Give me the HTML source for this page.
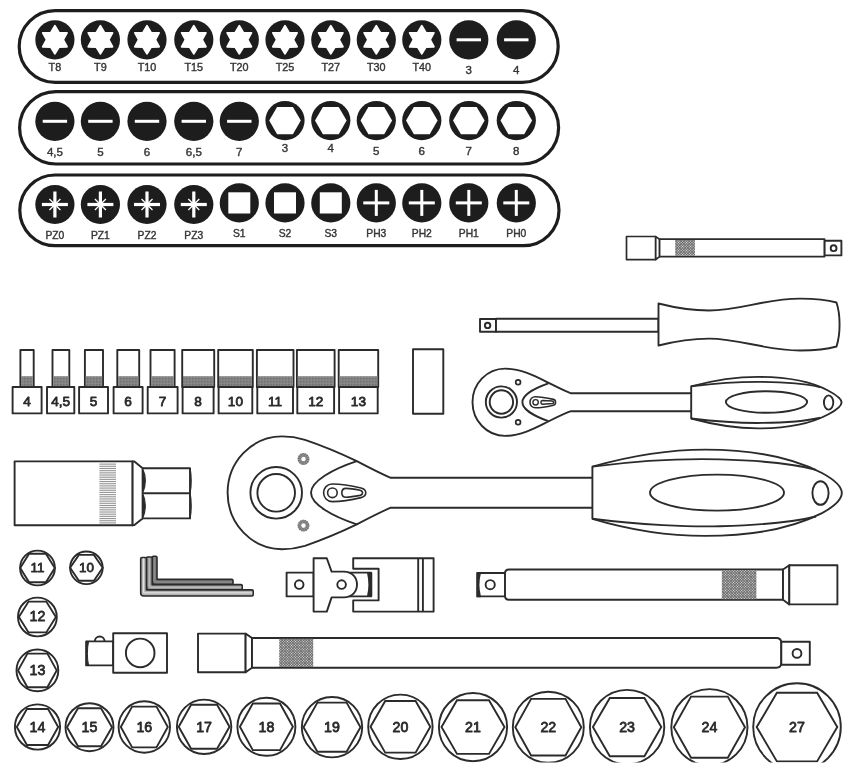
<!DOCTYPE html>
<html><head><meta charset="utf-8"><title>Tool set</title>
<style>html,body{margin:0;padding:0;background:#fff}svg{display:block;filter:blur(0.3px)}text{font-family:"Liberation Sans",sans-serif}</style>
</head><body>
<svg width="850" height="772" viewBox="0 0 850 772">
<defs>
<pattern id="xh" width="1.9" height="1.9" patternUnits="userSpaceOnUse" patternTransform="rotate(45)"><rect width="1.9" height="1.9" fill="#e2e2e2"/><rect width="1.9" height="0.85" fill="#666"/><rect width="0.85" height="1.9" fill="#666"/></pattern>
<pattern id="gr" width="1.5" height="1.5" patternUnits="userSpaceOnUse"><rect width="1.5" height="1.5" fill="#8a8a8a"/><rect width="0.7" height="0.7" fill="#5e5e5e"/></pattern>
<pattern id="hl" width="4" height="1.85" patternUnits="userSpaceOnUse"><rect width="4" height="1.85" fill="#fff"/><rect width="4" height="0.9" fill="#8e8e8e"/></pattern>
</defs>
<rect width="850" height="772" fill="#fff"/>
<rect x="19.2" y="10.6" width="539.0" height="71.8" rx="35.9" fill="#fff" stroke="#1d1d1d" stroke-width="3.2"/>
<rect x="19.6" y="91.6" width="539.0" height="72.4" rx="36.2" fill="#fff" stroke="#1d1d1d" stroke-width="3.2"/>
<rect x="19.8" y="175.0" width="539.2" height="70.6" rx="35.3" fill="#fff" stroke="#1d1d1d" stroke-width="3.2"/>
<circle cx="54.9" cy="39.8" r="19.6" fill="#1d1d1d"/>
<polygon points="54.90,25.80 59.05,32.61 67.02,32.80 63.20,39.80 67.02,46.80 59.05,46.99 54.90,53.80 50.75,46.99 42.78,46.80 46.60,39.80 42.78,32.80 50.75,32.61" fill="#fff" stroke="#fff" stroke-width="1.8" stroke-linejoin="round"/>
<text x="54.9" y="71.2" font-size="10.8" font-weight="normal" fill="#363636" stroke="#363636" stroke-width="0.4" text-anchor="middle" letter-spacing="0">T8</text>
<circle cx="100.4" cy="39.8" r="19.6" fill="#1d1d1d"/>
<polygon points="100.40,25.80 104.55,32.61 112.52,32.80 108.70,39.80 112.52,46.80 104.55,46.99 100.40,53.80 96.25,46.99 88.28,46.80 92.10,39.80 88.28,32.80 96.25,32.61" fill="#fff" stroke="#fff" stroke-width="1.8" stroke-linejoin="round"/>
<text x="100.4" y="71.2" font-size="10.8" font-weight="normal" fill="#363636" stroke="#363636" stroke-width="0.4" text-anchor="middle" letter-spacing="0">T9</text>
<circle cx="147.0" cy="39.8" r="19.6" fill="#1d1d1d"/>
<polygon points="147.00,25.80 151.15,32.61 159.12,32.80 155.30,39.80 159.12,46.80 151.15,46.99 147.00,53.80 142.85,46.99 134.88,46.80 138.70,39.80 134.88,32.80 142.85,32.61" fill="#fff" stroke="#fff" stroke-width="1.8" stroke-linejoin="round"/>
<text x="147.0" y="71.2" font-size="10.8" font-weight="normal" fill="#363636" stroke="#363636" stroke-width="0.4" text-anchor="middle" letter-spacing="0">T10</text>
<circle cx="193.8" cy="39.8" r="19.6" fill="#1d1d1d"/>
<polygon points="193.80,25.80 197.95,32.61 205.92,32.80 202.10,39.80 205.92,46.80 197.95,46.99 193.80,53.80 189.65,46.99 181.68,46.80 185.50,39.80 181.68,32.80 189.65,32.61" fill="#fff" stroke="#fff" stroke-width="1.8" stroke-linejoin="round"/>
<text x="193.8" y="71.2" font-size="10.8" font-weight="normal" fill="#363636" stroke="#363636" stroke-width="0.4" text-anchor="middle" letter-spacing="0">T15</text>
<circle cx="239.3" cy="39.8" r="19.6" fill="#1d1d1d"/>
<polygon points="239.30,25.80 243.45,32.61 251.42,32.80 247.60,39.80 251.42,46.80 243.45,46.99 239.30,53.80 235.15,46.99 227.18,46.80 231.00,39.80 227.18,32.80 235.15,32.61" fill="#fff" stroke="#fff" stroke-width="1.8" stroke-linejoin="round"/>
<text x="239.3" y="71.2" font-size="10.8" font-weight="normal" fill="#363636" stroke="#363636" stroke-width="0.4" text-anchor="middle" letter-spacing="0">T20</text>
<circle cx="285.0" cy="39.8" r="19.6" fill="#1d1d1d"/>
<polygon points="285.00,25.80 289.15,32.61 297.12,32.80 293.30,39.80 297.12,46.80 289.15,46.99 285.00,53.80 280.85,46.99 272.88,46.80 276.70,39.80 272.88,32.80 280.85,32.61" fill="#fff" stroke="#fff" stroke-width="1.8" stroke-linejoin="round"/>
<text x="285.0" y="71.2" font-size="10.8" font-weight="normal" fill="#363636" stroke="#363636" stroke-width="0.4" text-anchor="middle" letter-spacing="0">T25</text>
<circle cx="330.8" cy="39.8" r="19.6" fill="#1d1d1d"/>
<polygon points="330.80,25.80 334.95,32.61 342.92,32.80 339.10,39.80 342.92,46.80 334.95,46.99 330.80,53.80 326.65,46.99 318.68,46.80 322.50,39.80 318.68,32.80 326.65,32.61" fill="#fff" stroke="#fff" stroke-width="1.8" stroke-linejoin="round"/>
<text x="330.8" y="71.2" font-size="10.8" font-weight="normal" fill="#363636" stroke="#363636" stroke-width="0.4" text-anchor="middle" letter-spacing="0">T27</text>
<circle cx="376.3" cy="39.8" r="19.6" fill="#1d1d1d"/>
<polygon points="376.30,25.80 380.45,32.61 388.42,32.80 384.60,39.80 388.42,46.80 380.45,46.99 376.30,53.80 372.15,46.99 364.18,46.80 368.00,39.80 364.18,32.80 372.15,32.61" fill="#fff" stroke="#fff" stroke-width="1.8" stroke-linejoin="round"/>
<text x="376.3" y="71.2" font-size="10.8" font-weight="normal" fill="#363636" stroke="#363636" stroke-width="0.4" text-anchor="middle" letter-spacing="0">T30</text>
<circle cx="421.8" cy="39.8" r="19.6" fill="#1d1d1d"/>
<polygon points="421.80,25.80 425.95,32.61 433.92,32.80 430.10,39.80 433.92,46.80 425.95,46.99 421.80,53.80 417.65,46.99 409.68,46.80 413.50,39.80 409.68,32.80 417.65,32.61" fill="#fff" stroke="#fff" stroke-width="1.8" stroke-linejoin="round"/>
<text x="421.8" y="71.2" font-size="10.8" font-weight="normal" fill="#363636" stroke="#363636" stroke-width="0.4" text-anchor="middle" letter-spacing="0">T40</text>
<circle cx="468.8" cy="39.8" r="19.6" fill="#1d1d1d"/>
<rect x="456.6" y="38.3" width="24.4" height="3" fill="#fff"/>
<text x="468.8" y="74.2" font-size="11.5" font-weight="normal" fill="#363636" stroke="#363636" stroke-width="0.4" text-anchor="middle" letter-spacing="0">3</text>
<circle cx="516.3" cy="39.8" r="19.6" fill="#1d1d1d"/>
<rect x="504.1" y="38.3" width="24.4" height="3" fill="#fff"/>
<text x="516.3" y="74.2" font-size="11.5" font-weight="normal" fill="#363636" stroke="#363636" stroke-width="0.4" text-anchor="middle" letter-spacing="0">4</text>
<circle cx="54.9" cy="121.3" r="19.6" fill="#1d1d1d"/>
<rect x="42.7" y="119.8" width="24.4" height="3" fill="#fff"/>
<text x="54.9" y="155.8" font-size="11.5" font-weight="normal" fill="#363636" stroke="#363636" stroke-width="0.4" text-anchor="middle" letter-spacing="0">4,5</text>
<circle cx="100.4" cy="121.3" r="19.6" fill="#1d1d1d"/>
<rect x="88.2" y="119.8" width="24.4" height="3" fill="#fff"/>
<text x="100.4" y="155.8" font-size="11.5" font-weight="normal" fill="#363636" stroke="#363636" stroke-width="0.4" text-anchor="middle" letter-spacing="0">5</text>
<circle cx="147.0" cy="121.3" r="19.6" fill="#1d1d1d"/>
<rect x="134.8" y="119.8" width="24.4" height="3" fill="#fff"/>
<text x="147.0" y="155.8" font-size="11.5" font-weight="normal" fill="#363636" stroke="#363636" stroke-width="0.4" text-anchor="middle" letter-spacing="0">6</text>
<circle cx="193.8" cy="121.3" r="19.6" fill="#1d1d1d"/>
<rect x="181.6" y="119.8" width="24.4" height="3" fill="#fff"/>
<text x="193.8" y="155.8" font-size="11.5" font-weight="normal" fill="#363636" stroke="#363636" stroke-width="0.4" text-anchor="middle" letter-spacing="0">6,5</text>
<circle cx="239.3" cy="121.3" r="19.6" fill="#1d1d1d"/>
<rect x="227.1" y="119.8" width="24.4" height="3" fill="#fff"/>
<text x="239.3" y="155.8" font-size="11.5" font-weight="normal" fill="#363636" stroke="#363636" stroke-width="0.4" text-anchor="middle" letter-spacing="0">7</text>
<circle cx="285.0" cy="120.6" r="19.6" fill="#1d1d1d"/>
<polygon points="269.2,120.6 277.1,106.9 292.9,106.9 300.8,120.6 292.9,134.3 277.1,134.3" fill="#fff"/>
<text x="285.0" y="152.2" font-size="11.5" font-weight="normal" fill="#363636" stroke="#363636" stroke-width="0.4" text-anchor="middle" letter-spacing="0">3</text>
<circle cx="330.8" cy="120.6" r="19.6" fill="#1d1d1d"/>
<polygon points="315.0,120.6 322.9,106.9 338.7,106.9 346.6,120.6 338.7,134.3 322.9,134.3" fill="#fff"/>
<text x="330.8" y="152.2" font-size="11.5" font-weight="normal" fill="#363636" stroke="#363636" stroke-width="0.4" text-anchor="middle" letter-spacing="0">4</text>
<circle cx="376.3" cy="120.6" r="19.6" fill="#1d1d1d"/>
<polygon points="360.5,120.6 368.4,106.9 384.2,106.9 392.1,120.6 384.2,134.3 368.4,134.3" fill="#fff"/>
<text x="376.3" y="155.4" font-size="11.5" font-weight="normal" fill="#363636" stroke="#363636" stroke-width="0.4" text-anchor="middle" letter-spacing="0">5</text>
<circle cx="421.8" cy="120.6" r="19.6" fill="#1d1d1d"/>
<polygon points="406.0,120.6 413.9,106.9 429.7,106.9 437.6,120.6 429.7,134.3 413.9,134.3" fill="#fff"/>
<text x="421.8" y="155.4" font-size="11.5" font-weight="normal" fill="#363636" stroke="#363636" stroke-width="0.4" text-anchor="middle" letter-spacing="0">6</text>
<circle cx="468.8" cy="120.6" r="19.6" fill="#1d1d1d"/>
<polygon points="453.0,120.6 460.9,106.9 476.7,106.9 484.6,120.6 476.7,134.3 460.9,134.3" fill="#fff"/>
<text x="468.8" y="155.4" font-size="11.5" font-weight="normal" fill="#363636" stroke="#363636" stroke-width="0.4" text-anchor="middle" letter-spacing="0">7</text>
<circle cx="516.3" cy="120.6" r="19.6" fill="#1d1d1d"/>
<polygon points="500.5,120.6 508.4,106.9 524.2,106.9 532.1,120.6 524.2,134.3 508.4,134.3" fill="#fff"/>
<text x="516.3" y="155.4" font-size="11.5" font-weight="normal" fill="#363636" stroke="#363636" stroke-width="0.4" text-anchor="middle" letter-spacing="0">8</text>
<circle cx="54.9" cy="204.5" r="19.6" fill="#1d1d1d"/>
<rect x="41.9" y="202.9" width="26" height="3.2" fill="#fff"/>
<rect x="53.3" y="191.5" width="3.2" height="26" fill="#fff"/>
<path d="M49.4,199.0L60.4,210.0M49.4,210.0L60.4,199.0" stroke="#fff" stroke-width="1.3"/>
<text x="54.9" y="238.5" font-size="10.3" font-weight="normal" fill="#363636" stroke="#363636" stroke-width="0.4" text-anchor="middle" letter-spacing="0">PZ0</text>
<circle cx="100.4" cy="204.5" r="19.6" fill="#1d1d1d"/>
<rect x="87.4" y="202.9" width="26" height="3.2" fill="#fff"/>
<rect x="98.8" y="191.5" width="3.2" height="26" fill="#fff"/>
<path d="M94.9,199.0L105.9,210.0M94.9,210.0L105.9,199.0" stroke="#fff" stroke-width="1.3"/>
<text x="100.4" y="238.5" font-size="10.3" font-weight="normal" fill="#363636" stroke="#363636" stroke-width="0.4" text-anchor="middle" letter-spacing="0">PZ1</text>
<circle cx="147.0" cy="204.5" r="19.6" fill="#1d1d1d"/>
<rect x="134.0" y="202.9" width="26" height="3.2" fill="#fff"/>
<rect x="145.4" y="191.5" width="3.2" height="26" fill="#fff"/>
<path d="M141.5,199.0L152.5,210.0M141.5,210.0L152.5,199.0" stroke="#fff" stroke-width="1.3"/>
<text x="147.0" y="238.5" font-size="10.3" font-weight="normal" fill="#363636" stroke="#363636" stroke-width="0.4" text-anchor="middle" letter-spacing="0">PZ2</text>
<circle cx="193.8" cy="204.5" r="19.6" fill="#1d1d1d"/>
<rect x="180.8" y="202.9" width="26" height="3.2" fill="#fff"/>
<rect x="192.2" y="191.5" width="3.2" height="26" fill="#fff"/>
<path d="M188.3,199.0L199.3,210.0M188.3,210.0L199.3,199.0" stroke="#fff" stroke-width="1.3"/>
<text x="193.8" y="238.5" font-size="10.3" font-weight="normal" fill="#363636" stroke="#363636" stroke-width="0.4" text-anchor="middle" letter-spacing="0">PZ3</text>
<circle cx="239.3" cy="202.9" r="19.6" fill="#1d1d1d"/>
<rect x="228.3" y="192.3" width="22" height="21.2" fill="#fff"/>
<text x="239.3" y="236.8" font-size="10.3" font-weight="normal" fill="#363636" stroke="#363636" stroke-width="0.4" text-anchor="middle" letter-spacing="0">S1</text>
<circle cx="285.0" cy="202.9" r="19.6" fill="#1d1d1d"/>
<rect x="274.0" y="192.3" width="22" height="21.2" fill="#fff"/>
<text x="285.0" y="236.8" font-size="10.3" font-weight="normal" fill="#363636" stroke="#363636" stroke-width="0.4" text-anchor="middle" letter-spacing="0">S2</text>
<circle cx="330.8" cy="202.9" r="19.6" fill="#1d1d1d"/>
<rect x="319.8" y="192.3" width="22" height="21.2" fill="#fff"/>
<text x="330.8" y="236.8" font-size="10.3" font-weight="normal" fill="#363636" stroke="#363636" stroke-width="0.4" text-anchor="middle" letter-spacing="0">S3</text>
<circle cx="376.3" cy="202.9" r="19.6" fill="#1d1d1d"/>
<rect x="363.3" y="201.4" width="26" height="3" fill="#fff"/>
<rect x="374.8" y="189.9" width="3" height="26" fill="#fff"/>
<text x="376.3" y="236.8" font-size="10.3" font-weight="normal" fill="#363636" stroke="#363636" stroke-width="0.4" text-anchor="middle" letter-spacing="0">PH3</text>
<circle cx="421.8" cy="202.9" r="19.6" fill="#1d1d1d"/>
<rect x="408.8" y="201.4" width="26" height="3" fill="#fff"/>
<rect x="420.3" y="189.9" width="3" height="26" fill="#fff"/>
<text x="421.8" y="236.8" font-size="10.3" font-weight="normal" fill="#363636" stroke="#363636" stroke-width="0.4" text-anchor="middle" letter-spacing="0">PH2</text>
<circle cx="468.8" cy="202.9" r="19.6" fill="#1d1d1d"/>
<rect x="455.8" y="201.4" width="26" height="3" fill="#fff"/>
<rect x="467.3" y="189.9" width="3" height="26" fill="#fff"/>
<text x="468.8" y="236.8" font-size="10.3" font-weight="normal" fill="#363636" stroke="#363636" stroke-width="0.4" text-anchor="middle" letter-spacing="0">PH1</text>
<circle cx="516.3" cy="202.9" r="19.6" fill="#1d1d1d"/>
<rect x="503.3" y="201.4" width="26" height="3" fill="#fff"/>
<rect x="514.8" y="189.9" width="3" height="26" fill="#fff"/>
<text x="516.3" y="236.8" font-size="10.3" font-weight="normal" fill="#363636" stroke="#363636" stroke-width="0.4" text-anchor="middle" letter-spacing="0">PH0</text>
<g fill="#fff" stroke="#2b2b2b" stroke-width="1.9" stroke-linejoin="round">
<rect x="626.5" y="236.5" width="29.2" height="23.1" stroke-width="1.7"/>
<path d="M655.7,236.6 L659.6,239.2 L659.6,256.6 L655.7,259.5 Z" stroke-width="1.7"/>
<rect x="659.6" y="239.2" width="165" height="17.4" stroke-width="1.7"/>
<rect x="675.2" y="240" width="19.8" height="15.8" fill="url(#xh)" stroke="none"/>
<rect x="824.6" y="240.8" width="16.8" height="14.6"/>
<circle cx="833.6" cy="248.2" r="2.9"/>
<rect x="480" y="319" width="16" height="12.8"/>
<circle cx="487.6" cy="325.4" r="2.7"/>
<rect x="496" y="318.8" width="162.5" height="13"/>
<path d="M658.5,303.5 C680,309 695,310.5 709,310.5 C740,310.5 765,298.6 800,298.6 C815,298.6 828,300 836.5,302.5 C840.6,315 840.6,334 836.5,346.5 C828,349 815,350.5 800,350.5 C765,350.5 740,338.6 709,338.6 C695,338.6 680,340 658.5,345.5 Z"/>
<path d="M691,393.3 L571,393.3 C566,391.6 561,389 548.3,382.7 C538,377.6 522,368.6 505,368.6 C487,368.6 472.5,383.6 472.5,402.2 C472.5,420.8 487,435.9 505,435.9 C522,435.9 538,426.6 548.3,421.5 C561,415.2 566,412.8 571,411.2 L691,411.2"/>
<path d="M548.4,383.4 C535,388 522.4,395 522.4,402.2 C522.4,409.4 535,416.5 548.4,421.2" fill="none"/>
<circle cx="501.4" cy="402" r="15.6"/>
<circle cx="501.4" cy="402" r="11.7"/>
<circle cx="518.1" cy="382.2" r="2.4" stroke-width="1.7"/>
<circle cx="518.1" cy="422.2" r="2.4" stroke-width="1.7"/>
<path d="M535.6,396.8 C539,396.8 549,398.4 553.5,399.4 C556.2,400 556.2,404.6 553.5,405.2 C549,406.2 539,407.8 535.6,407.8 C532.2,407.8 530,405.4 530,402.3 C530,399.2 532.2,396.8 535.6,396.8 Z" stroke-width="1.6"/>
<circle cx="535.6" cy="402.3" r="2.7" stroke-width="1.4"/>
<path d="M542.4,400.4 L552.4,401 C554,401.2 554,403.4 552.4,403.6 L542.4,404.2 C540.4,404 540.4,400.6 542.4,400.4 Z" stroke-width="1.5"/>
<path d="M691.2,386.3 C715,380 740,376.9 758,376.9 C790,376.9 814,383 828,390.5 C836.5,395 841.6,399 841.6,402.4 C841.6,406 836.5,410 828,414.5 C814,422 790,428.4 758,428.4 C740,428.4 715,425 691.2,418.5 Z"/>
<path d="M691.2,386.3 C720,382.8 745,381.7 762,381.9 C785,382.1 805,383.6 820.5,387.2 M691.2,418.5 C720,422 745,423.1 762,422.9 C785,422.7 805,421.4 820.5,417.8" fill="none"/>
<ellipse cx="766.5" cy="402" rx="40.6" ry="10.8"/>
<ellipse cx="828.6" cy="402.5" rx="4.7" ry="7.1"/>
<path d="M592.4,477.8 L390.7,477.8 C380,473.2 368,467 356.8,461.1 C340,453 322,445.5 305,439.8 C297,437.4 290,436.4 282,436.4 C252,436.4 227.6,461.7 227.6,492.8 C227.6,523.9 252,549.2 282,549.2 C290,549.2 297,548.2 305,545.8 C322,540 340,532.5 356.8,524.4 C368,518.5 380,512.4 390.7,507.7 L592.4,507.7"/>
<path d="M356.8,461.1 C333,469 311,481 311,492.8 C311,504.5 333,516.5 356.8,524.4" fill="none"/>
<circle cx="276.2" cy="492.8" r="25.8"/>
<circle cx="276.2" cy="492.8" r="18.8"/>
<circle cx="303.5" cy="459.0" r="4.1" fill="#fff" stroke="#9a9a9a" stroke-width="3.6"/>
<circle cx="303.5" cy="459.0" r="4.1" fill="none" stroke="#6f6f6f" stroke-width="3.6" stroke-dasharray="0.9 0.9"/>
<circle cx="303.5" cy="525.6" r="4.1" fill="#fff" stroke="#9a9a9a" stroke-width="3.6"/>
<circle cx="303.5" cy="525.6" r="4.1" fill="none" stroke="#6f6f6f" stroke-width="3.6" stroke-dasharray="0.9 0.9"/>
<path d="M332.4,484 C339,484 354,486.3 361,488 C367.4,489.6 367.4,496 361,497.6 C354,499.3 339,501.6 332.4,501.6 C327,501.6 323.6,497.6 323.6,492.8 C323.6,488 327,484 332.4,484 Z" stroke-width="1.6"/>
<circle cx="332.4" cy="492.8" r="4.8" stroke-width="1.6"/>
<path d="M346,488.4 C350,488.4 356,489.4 360,490.2 C363.4,491 363.4,494.6 360,495.4 C356,496.2 350,497.2 346,497.2 C340.4,497.2 340.4,488.4 346,488.4 Z" stroke-width="1.6"/>
<path d="M592.4,466.6 C630,456 670,449.6 705,449.6 C755,449.6 795,459 822,473 C834,479.5 841.8,487 841.8,493 C841.8,499 834,506.5 822,513.2 C795,527 755,535.9 705,535.9 C670,535.9 630,530 592.4,518.8 Z"/>
<path d="M592.4,466.6 C640,460.5 690,458.6 720,459.4 C760,460.5 795,464 816,469.8 M592.4,518.8 C640,525 690,527 720,526.2 C760,525.1 795,521.8 816,516.5" fill="none"/>
<ellipse cx="717" cy="492.6" rx="67" ry="18"/>
<ellipse cx="820.5" cy="493" rx="8.1" ry="11.8"/>
<rect x="20.4" y="350" width="13.3" height="37"/>
<rect x="21.2" y="376.2" width="11.7" height="10.8" fill="url(#gr)" stroke="none"/>
<rect x="12.6" y="387" width="29.0" height="26.4"/>
<rect x="52.5" y="350" width="16.8" height="37"/>
<rect x="53.3" y="376.2" width="15.2" height="10.8" fill="url(#gr)" stroke="none"/>
<rect x="47" y="387" width="27.3" height="26.4"/>
<rect x="84.9" y="350" width="18.1" height="37"/>
<rect x="85.7" y="376.2" width="16.5" height="10.8" fill="url(#gr)" stroke="none"/>
<rect x="79.1" y="387" width="28.9" height="26.4"/>
<rect x="117.3" y="350" width="21.9" height="37"/>
<rect x="118.1" y="376.2" width="20.3" height="10.8" fill="url(#gr)" stroke="none"/>
<rect x="113.6" y="387" width="29.0" height="26.4"/>
<rect x="150.5" y="350" width="24.1" height="37"/>
<rect x="151.3" y="376.2" width="22.5" height="10.8" fill="url(#gr)" stroke="none"/>
<rect x="147.7" y="387" width="29.9" height="26.4"/>
<rect x="182.2" y="350" width="32.0" height="37"/>
<rect x="183.0" y="376.2" width="30.4" height="10.8" fill="url(#gr)" stroke="none"/>
<rect x="182.6" y="387" width="31.0" height="26.4"/>
<rect x="218.2" y="350" width="34.6" height="37"/>
<rect x="219.0" y="376.2" width="33.0" height="10.8" fill="url(#gr)" stroke="none"/>
<rect x="218.6" y="387" width="33.7" height="26.4"/>
<rect x="256.9" y="350" width="36.6" height="37"/>
<rect x="257.7" y="376.2" width="35.0" height="10.8" fill="url(#gr)" stroke="none"/>
<rect x="257.3" y="387" width="35.7" height="26.4"/>
<rect x="296.9" y="350" width="37.7" height="37"/>
<rect x="297.7" y="376.2" width="36.1" height="10.8" fill="url(#gr)" stroke="none"/>
<rect x="297.3" y="387" width="36.8" height="26.4"/>
<rect x="338.7" y="350" width="39.5" height="37"/>
<rect x="339.5" y="376.2" width="37.9" height="10.8" fill="url(#gr)" stroke="none"/>
<rect x="339.1" y="387" width="38.6" height="26.4"/>
<rect x="413" y="349.3" width="30.3" height="64.5"/>
<rect x="14.6" y="461.4" width="118" height="63.8"/>
<path d="M132.6,461.4 L134.4,461.5 L142.6,468.2 L142.6,518.4 L134.4,525.1 L132.6,525.2 Z"/>
<path d="M142.6,468.2 L190,468.2 L190,518.4 L142.6,518.4"/>
<path d="M142.6,493.2 L190,493.2" fill="none"/>
<path d="M142.6,468.4 C146,476 146,485.5 142.6,493.2 Z M142.6,493.2 C146,501 146,510.5 142.6,518.4 Z" fill="#2b2b2b" stroke-width="1.2"/>
<path d="M190,468.4 C191.4,476 191.4,485.5 190,493.2 C191.4,501 191.4,510.5 190,518.4" fill="none" stroke-width="1.4"/>
<rect x="99.4" y="463" width="16.6" height="61" fill="url(#hl)" stroke="none"/>
</g>
<g stroke="#2b2b2b" stroke-width="1.6" stroke-linejoin="round" stroke-linecap="round" fill="none">
<path d="M153.39999999999998,556.3 L155.8,556.3 Q157,556.3 157,557.5 L157,579.4 L231.8,579.4 Q233,579.4 233,580.6 L233,583.4 Q233,584.6 231.8,584.6 L155.2,584.6 Q152.2,584.6 152.2,581.6 L152.2,557.5 Q152.2,556.3 153.39999999999998,556.3 Z" fill="#7a7a7a"/><path d="M154.6,557.8 L154.6,581.0 Q154.6,582.0 155.6,582.0 L231.5,582.0" stroke="#8a8a8a" stroke-width="1.3"/>
<path d="M147.6,557 L151.0,557 Q152.2,557 152.2,558.2 L152.2,584.6 L241.0,584.6 Q242.2,584.6 242.2,585.8000000000001 L242.2,588.6999999999999 Q242.2,589.9 241.0,589.9 L149.4,589.9 Q146.4,589.9 146.4,586.9 L146.4,558.2 Q146.4,557 147.6,557 Z" fill="#9a9a9a"/><path d="M149.3,558.5 L149.3,586.25 Q149.3,587.25 150.3,587.25 L240.7,587.25" stroke="#bcbcbc" stroke-width="1.3"/>
<path d="M141.89999999999998,557.5 L145.20000000000002,557.5 Q146.4,557.5 146.4,558.7 L146.4,589.9 L252.0,589.9 Q253.2,589.9 253.2,591.1 L253.2,594.8 Q253.2,596 252.0,596 L143.7,596 Q140.7,596 140.7,593 L140.7,558.7 Q140.7,557.5 141.89999999999998,557.5 Z" fill="#b2b2b2"/><path d="M143.55,559.0 L143.55,591.95 Q143.55,592.95 144.55,592.95 L251.7,592.95" stroke="#e2e2e2" stroke-width="1.3"/>
</g>
<g fill="#fff" stroke="#2b2b2b" stroke-width="1.9" stroke-linejoin="round">
<path d="M353.2,558.2 L433.6,558.2 L433.6,611.6 L353.2,611.6 L353.2,600.4 L378.6,600.4 L378.6,568.8 L353.2,568.8 Z"/>
<path d="M418.2,558.2 L418.2,611.6 M422.9,558.2 L422.9,611.6" fill="none"/>
<rect x="350" y="572.6" width="21.2" height="23.8"/>
<path d="M368,573 L371.2,573 L371.2,596 L368,596 C369.6,589 369.6,580 368,573 Z" fill="#2b2b2b"/>
<rect x="286.6" y="572.6" width="27" height="23.8"/>
<circle cx="299.2" cy="584.6" r="4.3"/>
<path d="M313.6,558.2 L326.8,558.2 L331.6,571.6 L344,571.6 C352,571.6 357,577.5 357,584.6 C357,591.7 352,597.4 344,597.4 L331.6,597.4 L326.8,611.6 L313.6,611.6 Z"/>
<circle cx="341.6" cy="584.6" r="4.3"/>
<rect x="477.4" y="573" width="28" height="23.4"/>
<path d="M477.4,573 L480,573 C478.2,580 478.2,589.5 480,596.4 L477.4,596.4 Z" fill="#2b2b2b"/>
<circle cx="490.2" cy="584.7" r="4.6"/>
<path d="M509,569.5 L783,569.5 L783,599.8 L509,599.8 Q505,599.8 505,595.8 L505,573.5 Q505,569.5 509,569.5 Z"/>
<rect x="721.8" y="570.2" width="34.6" height="29" fill="url(#xh)" stroke="none"/>
<path d="M783,569.5 L789.3,565.3 L789.3,604.4 L783,599.8 Z"/>
<rect x="789.3" y="565.2" width="48.1" height="39.2"/>
<rect x="198" y="633.6" width="47.6" height="38.6"/>
<path d="M245.6,633.6 L252,638 L252,667.8 L245.6,672.2 Z"/>
<path d="M252,638 L776.3,638 Q781.3,638 781.3,643 L781.3,662.8 Q781.3,667.8 776.3,667.8 L252,667.8 Z"/>
<rect x="279.2" y="638.8" width="34" height="28.2" fill="url(#xh)" stroke="none"/>
<rect x="781.3" y="641.8" width="28.5" height="23"/>
<circle cx="797" cy="653.4" r="4.4"/>
<path d="M94.8,641.4 A4.9,4.9 0 0 1 104.6,641.4" />
<rect x="86.2" y="641.4" width="27" height="24"/>
<path d="M86.2,641.4 L88.6,641.4 C87,648 87,659 88.6,665.4 L86.2,665.4 Z" fill="#2b2b2b" stroke-width="1"/>
<rect x="113.2" y="633.2" width="53.8" height="39.6"/>
<circle cx="140.2" cy="652.9" r="14.3"/>
</g>
<text x="27.1" y="405.6" font-size="13.6" fill="#2a2a2a" stroke="#2a2a2a" stroke-width="0.8" stroke-linejoin="round" text-anchor="middle">4</text>
<text x="60.6" y="405.6" font-size="13.6" fill="#2a2a2a" stroke="#2a2a2a" stroke-width="0.8" stroke-linejoin="round" text-anchor="middle">4,5</text>
<text x="93.5" y="405.6" font-size="13.6" fill="#2a2a2a" stroke="#2a2a2a" stroke-width="0.8" stroke-linejoin="round" text-anchor="middle">5</text>
<text x="128.1" y="405.6" font-size="13.6" fill="#2a2a2a" stroke="#2a2a2a" stroke-width="0.8" stroke-linejoin="round" text-anchor="middle">6</text>
<text x="162.6" y="405.6" font-size="13.6" fill="#2a2a2a" stroke="#2a2a2a" stroke-width="0.8" stroke-linejoin="round" text-anchor="middle">7</text>
<text x="198.1" y="405.6" font-size="13.6" fill="#2a2a2a" stroke="#2a2a2a" stroke-width="0.8" stroke-linejoin="round" text-anchor="middle">8</text>
<text x="235.4" y="405.6" font-size="13.6" fill="#2a2a2a" stroke="#2a2a2a" stroke-width="0.8" stroke-linejoin="round" text-anchor="middle">10</text>
<text x="275.1" y="405.6" font-size="13.6" fill="#2a2a2a" stroke="#2a2a2a" stroke-width="0.8" stroke-linejoin="round" text-anchor="middle">11</text>
<text x="315.7" y="405.6" font-size="13.6" fill="#2a2a2a" stroke="#2a2a2a" stroke-width="0.8" stroke-linejoin="round" text-anchor="middle">12</text>
<text x="358.4" y="405.6" font-size="13.6" fill="#2a2a2a" stroke="#2a2a2a" stroke-width="0.8" stroke-linejoin="round" text-anchor="middle">13</text>
<g fill="#fff" stroke="#2b2b2b" stroke-width="1.9" stroke-linejoin="miter">
<circle cx="37.5" cy="568.0" r="17.4"/>
<polygon points="20.2,568.0 29.1,553.8 45.9,553.8 54.8,568.0 45.9,582.2 29.1,582.2" fill="none"/>
<circle cx="86.4" cy="567.8" r="16.3"/>
<polygon points="70.1,567.8 78.9,554.9 93.9,554.9 102.7,567.8 93.9,580.7 78.9,580.7" fill="none"/>
<circle cx="37.4" cy="617.0" r="19.4"/>
<polygon points="18.9,617.0 28.5,601.6 46.3,601.6 55.9,617.0 46.3,632.4 28.5,632.4" fill="none"/>
<circle cx="37.4" cy="670.4" r="20.9"/>
<polygon points="18.1,670.4 27.4,653.6 47.4,653.6 56.7,670.4 47.4,687.2 27.4,687.2" fill="none"/>
<circle cx="37.5" cy="727.0" r="22.6"/>
<polygon points="16.8,727.0 26.9,709.0 48.1,709.0 58.2,727.0 48.1,745.0 26.9,745.0" fill="none"/>
<circle cx="89.5" cy="727.2" r="24.0"/>
<polygon points="67.0,727.2 78.0,708.2 101.0,708.2 112.0,727.2 101.0,746.2 78.0,746.2" fill="none"/>
<circle cx="144.3" cy="727.0" r="25.7"/>
<polygon points="120.8,727.0 132.1,706.6 156.5,706.6 167.8,727.0 156.5,747.4 132.1,747.4" fill="none"/>
<circle cx="204.1" cy="726.8" r="27.2"/>
<polygon points="178.7,726.8 191.1,704.8 217.1,704.8 229.5,726.8 217.1,748.8 191.1,748.8" fill="none"/>
<circle cx="266.4" cy="726.8" r="29.0"/>
<polygon points="239.9,726.8 252.8,703.5 280.0,703.5 292.9,726.8 280.0,750.1 252.8,750.1" fill="none"/>
<circle cx="332.0" cy="727.2" r="30.2"/>
<polygon points="303.5,727.2 317.4,702.6 346.6,702.6 360.5,727.2 346.6,751.8 317.4,751.8" fill="none"/>
<circle cx="400.4" cy="726.8" r="32.2"/>
<polygon points="370.5,726.8 385.2,701.0 415.6,701.0 430.3,726.8 415.6,752.6 385.2,752.6" fill="none"/>
<circle cx="473.0" cy="727.1" r="34.1"/>
<polygon points="441.5,727.1 457.0,700.3 489.0,700.3 504.5,727.1 489.0,753.9 457.0,753.9" fill="none"/>
<circle cx="548.3" cy="727.2" r="35.5"/>
<polygon points="515.3,727.2 531.1,698.9 565.5,698.9 581.3,727.2 565.5,755.5 531.1,755.5" fill="none"/>
<circle cx="627.1" cy="727.1" r="37.2"/>
<polygon points="592.9,727.1 609.8,698.0 644.4,698.0 661.3,727.1 644.4,756.2 609.8,756.2" fill="none"/>
<circle cx="709.4" cy="727.2" r="38.1"/>
<polygon points="673.8,727.2 691.0,696.6 727.8,696.6 745.0,727.2 727.8,757.8 691.0,757.8" fill="none"/>
<circle cx="797.0" cy="727.1" r="43.8"/>
<polygon points="756.7,727.1 776.9,692.8 817.1,692.8 837.3,727.1 817.1,761.4 776.9,761.4" fill="none"/>
</g>
<text x="37.5" y="572.2" font-size="13.4" fill="#2a2a2a" stroke="#2a2a2a" stroke-width="0.8" stroke-linejoin="round" text-anchor="middle">11</text>
<text x="86.4" y="572.0" font-size="13.4" fill="#2a2a2a" stroke="#2a2a2a" stroke-width="0.8" stroke-linejoin="round" text-anchor="middle">10</text>
<text x="37.4" y="621.2" font-size="14.2" fill="#2a2a2a" stroke="#2a2a2a" stroke-width="0.8" stroke-linejoin="round" text-anchor="middle">12</text>
<text x="37.4" y="674.6" font-size="14.2" fill="#2a2a2a" stroke="#2a2a2a" stroke-width="0.8" stroke-linejoin="round" text-anchor="middle">13</text>
<text x="37.5" y="731.8" font-size="14.2" fill="#2a2a2a" stroke="#2a2a2a" stroke-width="0.8" stroke-linejoin="round" text-anchor="middle">14</text>
<text x="89.5" y="731.8" font-size="14.2" fill="#2a2a2a" stroke="#2a2a2a" stroke-width="0.8" stroke-linejoin="round" text-anchor="middle">15</text>
<text x="144.3" y="731.8" font-size="14.2" fill="#2a2a2a" stroke="#2a2a2a" stroke-width="0.8" stroke-linejoin="round" text-anchor="middle">16</text>
<text x="204.1" y="731.8" font-size="14.2" fill="#2a2a2a" stroke="#2a2a2a" stroke-width="0.8" stroke-linejoin="round" text-anchor="middle">17</text>
<text x="266.4" y="731.8" font-size="14.2" fill="#2a2a2a" stroke="#2a2a2a" stroke-width="0.8" stroke-linejoin="round" text-anchor="middle">18</text>
<text x="332.0" y="731.8" font-size="14.2" fill="#2a2a2a" stroke="#2a2a2a" stroke-width="0.8" stroke-linejoin="round" text-anchor="middle">19</text>
<text x="400.4" y="731.8" font-size="14.2" fill="#2a2a2a" stroke="#2a2a2a" stroke-width="0.8" stroke-linejoin="round" text-anchor="middle">20</text>
<text x="473.0" y="731.8" font-size="14.2" fill="#2a2a2a" stroke="#2a2a2a" stroke-width="0.8" stroke-linejoin="round" text-anchor="middle">21</text>
<text x="548.3" y="731.8" font-size="14.2" fill="#2a2a2a" stroke="#2a2a2a" stroke-width="0.8" stroke-linejoin="round" text-anchor="middle">22</text>
<text x="627.1" y="731.8" font-size="14.2" fill="#2a2a2a" stroke="#2a2a2a" stroke-width="0.8" stroke-linejoin="round" text-anchor="middle">23</text>
<text x="709.4" y="731.8" font-size="14.2" fill="#2a2a2a" stroke="#2a2a2a" stroke-width="0.8" stroke-linejoin="round" text-anchor="middle">24</text>
<text x="797.0" y="731.8" font-size="14.2" fill="#2a2a2a" stroke="#2a2a2a" stroke-width="0.8" stroke-linejoin="round" text-anchor="middle">27</text>
<rect x="0" y="762.5" width="850" height="10" fill="#fff"/>
</svg>
</body></html>
